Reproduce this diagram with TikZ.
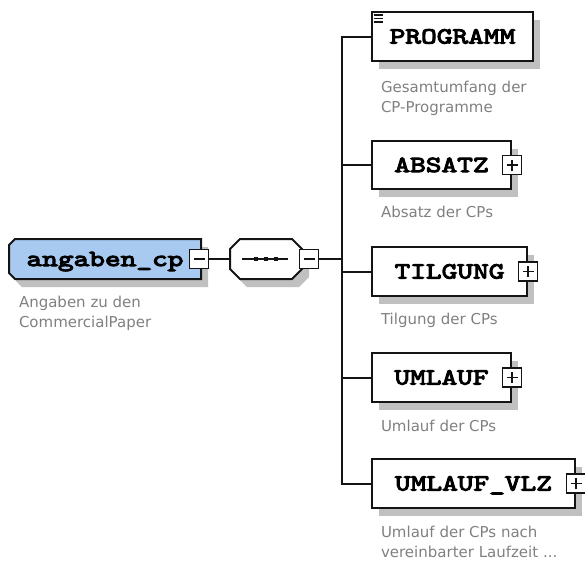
\documentclass[tikz,border=0pt]{standalone}
\usepackage{fontspec}
\setmainfont{DejaVu Sans}
\newfontfamily\elemfont{lmmono10-regular.otf}[FakeStretch=1.3,FakeBold=4.5]
\usetikzlibrary{shadows}
\definecolor{rootblue}{RGB}{168,202,240}
\definecolor{descgray}{RGB}{128,128,128}
\definecolor{shadowgray}{RGB}{192,192,192}
\definecolor{linecol}{RGB}{20,20,20}
\begin{document}
\begin{tikzpicture}[x=1pt,y=-1pt,
  line width=2pt, draw=linecol,
  shad/.style={drop shadow={shadow xshift=7pt, shadow yshift=-8pt, fill=shadowgray, opacity=1}},
  elemtext/.style={font=\elemfont\fontsize{23}{23}\selectfont, text height=14pt, text depth=0pt},
  elem/.style={draw=linecol, fill=white, line width=2pt, minimum height=49pt, inner sep=0pt, anchor=west, elemtext, shad},
  pmbox/.style={draw=linecol, fill=white, line width=1.6pt, minimum size=19pt, inner sep=0pt},
  minusbox/.style={pmbox, path picture={\draw[line width=1.6pt] ([xshift=4pt]path picture bounding box.west) -- ([xshift=-4pt]path picture bounding box.east);}},
  plusbox/.style={pmbox, path picture={\draw[line width=1.6pt] ([xshift=4pt]path picture bounding box.west) -- ([xshift=-4pt]path picture bounding box.east); \draw[line width=1.6pt] ([yshift=4pt]path picture bounding box.south) -- ([yshift=-4pt]path picture bounding box.north);}},
  desc/.style={font=\fontsize{15}{20}\selectfont, text=descgray, align=left, anchor=north west, inner sep=0pt},
  conn/.style={draw=linecol, line width=2pt}
]
\useasboundingbox (0,0) rectangle (585,560);

% root element (chamfered left corners)
\node[minimum width=192pt, minimum height=40pt, inner sep=0pt, outer sep=0pt] (root) at (105,259) {};
\path[draw=linecol, fill=rootblue, line width=2pt, line join=miter, shad]
  ([xshift=6pt]root.north west) -- (root.north east) -- (root.south east) -- ([xshift=6pt]root.south west)
  -- ([yshift=6pt]root.south west) -- ([yshift=-6pt]root.north west) -- cycle;
\node[elemtext, inner sep=0pt] (roottext) at (root.center) {angaben\_cp\hspace{11pt}};
\node[minusbox] (rootpm) at ([xshift=-2pt]root.east) {};
\node[desc] (rootdesc) at (18,295.3) {Angaben zu den\\CommercialPaper};

% sequence compositor (octagon)
\node[minimum width=72pt, minimum height=40pt, inner sep=0pt, outer sep=0pt] (seq) at (266,259) {};
\path[draw=linecol, fill=white, line width=2pt, line join=miter, shad]
  ([xshift=10pt]seq.north west) -- ([xshift=-10pt]seq.north east) -- ([yshift=-10pt]seq.north east)
  -- ([yshift=10pt]seq.south east) -- ([xshift=-10pt]seq.south east) -- ([xshift=10pt]seq.south west)
  -- ([yshift=10pt]seq.south west) -- ([yshift=-10pt]seq.north west) -- cycle;
\draw[conn] ([xshift=-24pt]seq.center) -- ([xshift=22pt]seq.center);
\foreach \dx in {-10,0,10} \fill[linecol] ([xshift=\dx pt]seq.center) +(-2.4,-2.4) rectangle +(2.4,2.4);
\node[minusbox] (seqpm) at ([xshift=7pt]seq.east) {};

\draw[conn] (rootpm.east) -- (seq.west);

% children
\node[elem, minimum width=161pt] (prog) at (371,36.5) {PROGRAMM};
\foreach \d in {4,7.5,11} \draw[line width=1.5pt] ([xshift=2.5pt,yshift=-\d pt]prog.north west) -- ++(9,0);
\node[desc] (progdesc) at (380,79.6) {Gesamtumfang der\\CP-Programme};

\node[elem, minimum width=139pt, minimum height=48pt] (absatz) at (371,165) {ABSATZ\hspace{7pt}};
\node[plusbox] (absatzpm) at (absatz.east) {};
\node[desc] (absatzdesc) at (380,205) {Absatz der CPs};

\node[elem, minimum width=155pt] (tilg) at (371,271.5) {TILGUNG\hspace{7pt}};
\node[plusbox] (tilgpm) at (tilg.east) {};
\node[desc] (tilgdesc) at (380,311.6) {Tilgung der CPs};

\node[elem, minimum width=139pt] (uml) at (371,377.5) {UMLAUF\hspace{9pt}};
\node[plusbox] (umlpm) at (uml.east) {};
\node[desc] (umldesc) at (380,418.6) {Umlauf der CPs};

\node[elem, minimum width=203pt] (vlz) at (371,483.5) {UMLAUF\_VLZ\hspace{8pt}};
\node[plusbox] (vlzpm) at (vlz.east) {};
\node[desc] (vlzdesc) at (380,525.3) {Umlauf der CPs nach\\vereinbarter Laufzeit ...};

% bus and connectors
\coordinate (busx) at (342,0);
\draw[conn, line join=miter] (prog.west) -- (prog.west -| busx) -- (vlz.west -| busx) -- (vlz.west);
\draw[conn] (seqpm.east) -- (seqpm.east -| busx);
\draw[conn] (absatz.west -| busx) -- (absatz.west);
\draw[conn] (tilg.west -| busx) -- (tilg.west);
\draw[conn] (uml.west -| busx) -- (uml.west);
\end{tikzpicture}
\end{document}
